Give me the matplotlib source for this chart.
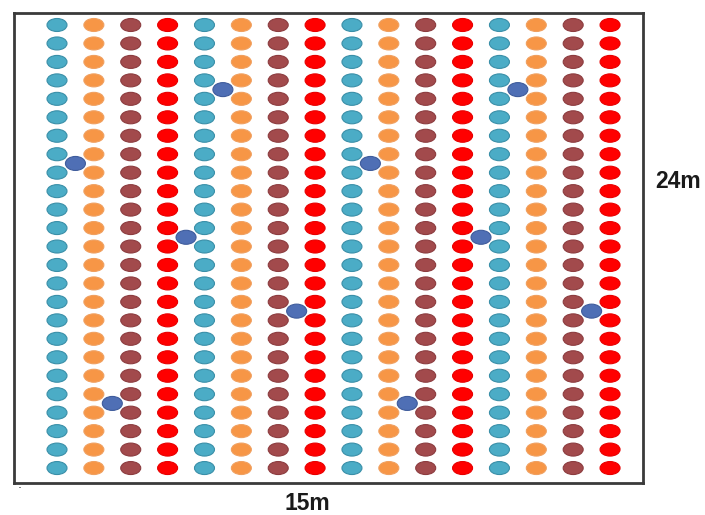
import matplotlib
matplotlib.use("Agg")
import matplotlib.pyplot as plt
from matplotlib.patches import Ellipse

# Layout data
n_cols = 16
n_rows = 25
col_colors = ["#4bacc6", "#f79646", "#a24a4c", "#ff0000"]   # repeating column pattern
col_edges = ["#3a8fa8", "#f0a060", "#8c3c3f", "#e80000"]
blue_cols = [4.5, 0.5, 3.5, 6.5, 1.5, 12.5, 8.5, 11.5, 14.5, 9.5]
blue_rows = [3.5, 7.5, 11.5, 15.5, 20.5, 3.5, 7.5, 11.5, 15.5, 20.5]
blue_color = "#4f6fb5"
blue_edge = "#3f5c9c"
width_label = "15m"
height_label = "24m"

W, H = 705, 515
fig = plt.figure(figsize=(W / 100, H / 100), dpi=100)
fig.patch.set_facecolor("white")

# frame in pixels: x 14..643, y 13..483
left, right, top, bottom = 14, 643, 13, 483
ax = fig.add_axes([left / W, 1 - bottom / H, (right - left) / W, (bottom - top) / H])

dx = 36.87  # px per column
dy = 18.46  # px per row
x0, y0 = 57, 25
ax.set_xlim(-(x0 - left) / dx, (right - x0) / dx)
ax.set_ylim((bottom - y0) / dy, -(y0 - top) / dy)

ew = 20 / dx
eh = 13 / dy
for c in range(n_cols):
    fc = col_colors[c % 4]
    ec = col_edges[c % 4]
    for r in range(n_rows):
        ax.add_patch(Ellipse((c, r), ew, eh, facecolor=fc, edgecolor=ec, lw=0.8))

for bc, br in zip(blue_cols, blue_rows):
    ax.add_patch(Ellipse((bc, br), 20 / dx, 14 / dy, facecolor=blue_color,
                         edgecolor=blue_edge, lw=0.8, zorder=3))

ax.set_xticks([])
ax.set_yticks([])
for s in ax.spines.values():
    s.set_linewidth(2.0)
    s.set_color("#3a3a3a")

fig.text(655 / W, 1 - 182 / H, height_label, ha="left", va="center",
         fontsize=16.5, fontweight="bold", family="Liberation Sans", color="#1a1a1a")
fig.text(307 / W, 1 - 503 / H, width_label, ha="center", va="center",
         fontsize=16.5, fontweight="bold", family="Liberation Sans", color="#1a1a1a")
fig.text(20 / W, 1 - 491 / H, ".", ha="center", va="bottom",
         fontsize=9, color="#333333")

fig.savefig("out.png", dpi=100)
